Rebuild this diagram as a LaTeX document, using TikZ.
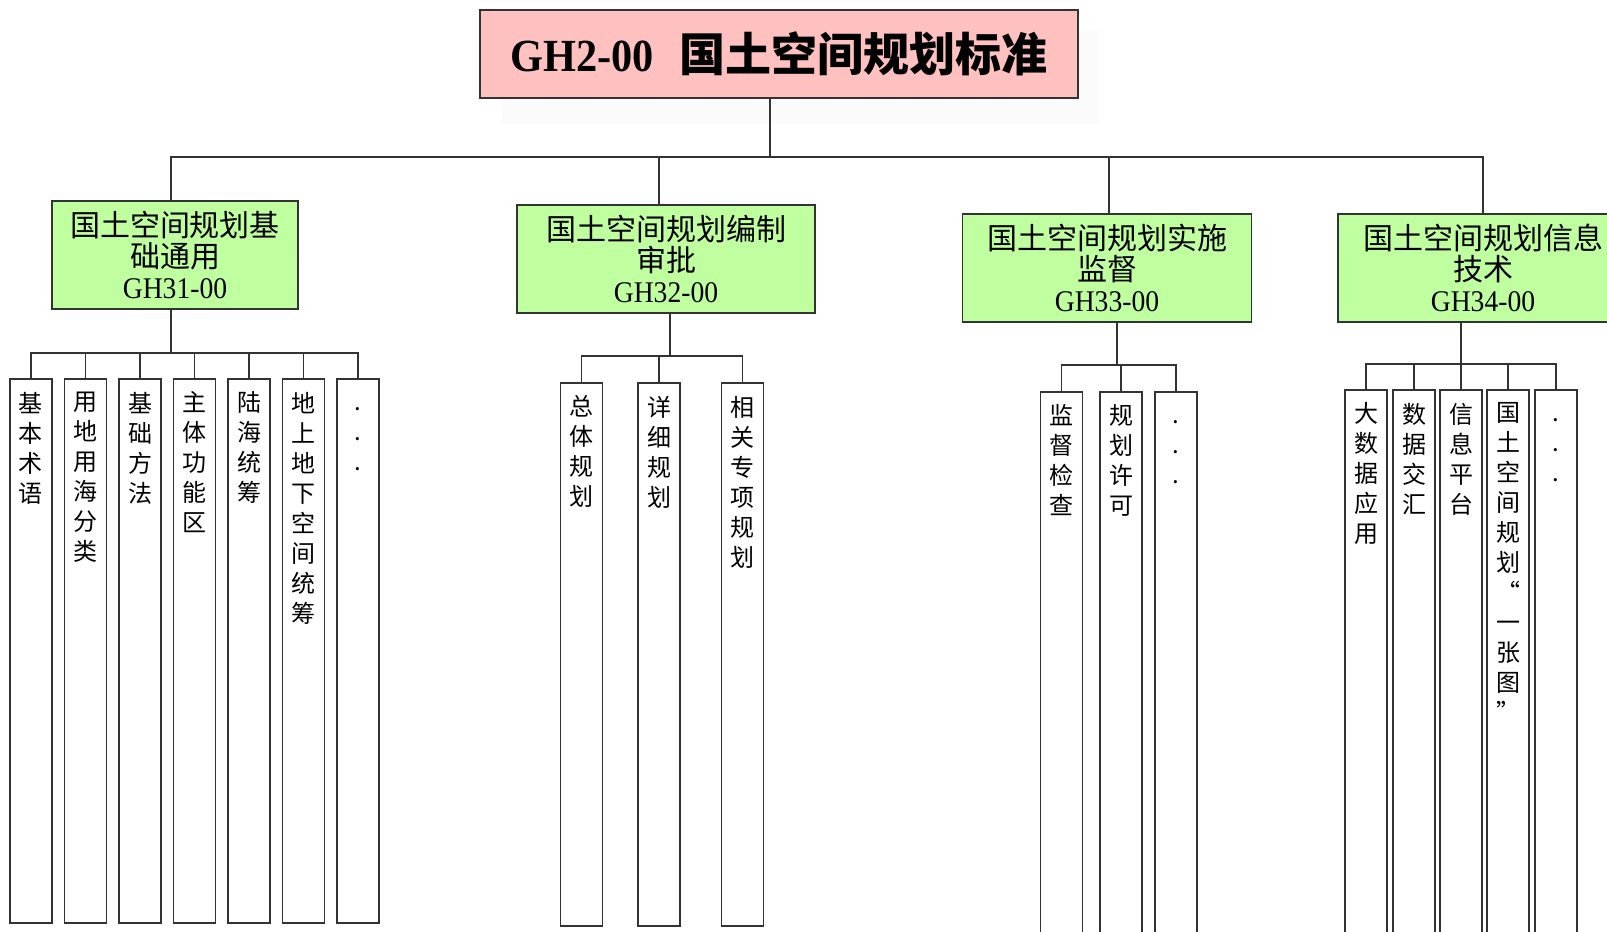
\documentclass[tikz,border=0pt]{standalone}
\usepackage{fontspec}
\setmainfont{Noto Sans CJK SC}
\newfontfamily\lat[FakeStretch=0.92]{Liberation Serif}
\definecolor{rosa}{RGB}{255,192,192}
\definecolor{gruen}{RGB}{192,255,160}
\newcommand{\spalte}[2]{\parbox[t][#1][t]{40pt}{\centering\vspace{13pt}#2}}
\tikzset{
	linie/.style={draw=black!80, line width=1.7pt},
	hauptkasten/.style={
		rectangle,
		fill=rosa,
		draw=black!80, line width=1.7pt,
		minimum width=598pt,
		minimum height=88pt,
		font=\fontsize{46}{46}\selectfont\bfseries},
	zweigkasten/.style={
		rectangle,
		fill=gruen,
		draw=black!80, line width=1.7pt,
		minimum height=108pt,
		align=center,
		font=\fontsize{30}{31}\selectfont},
	blatt/.style={
		rectangle,
		draw=black!80, line width=1.7pt,
		anchor=north,
		inner sep=0pt,
		minimum width=42pt,
		font=\fontsize{24}{30}\selectfont},
}

\begin{document}
\begin{tikzpicture}[x=1pt, y=-1pt]
	\path[use as bounding box, fill=white] (0,0) rectangle (1607,932);
	\clip (0,0) rectangle (1607,932);
	\fill[black!1.5] (502,31) rectangle (1099,123);

	\node[hauptkasten] (haupt) at (779,54) {{\lat GH2-00}\hspace{0.55em}国土空间规划标准};

	\node[zweigkasten, minimum width=246pt] (eins) at (175,255) {国土空间规划基\\础通用\\{\lat GH31-00}};
	\node[zweigkasten, minimum width=298pt] (zwei) at (666,259) {国土空间规划编制\\审批\\{\lat GH32-00}};
	\node[zweigkasten, minimum width=289pt] (drei) at (1107,268) {国土空间规划实施\\监督\\{\lat GH33-00}};
	\node[zweigkasten, minimum width=290pt] (vier) at (1483,268) {国土空间规划信息\\技术\\{\lat GH34-00}};

	% GH31
	\node[blatt] (eins-1) at (31,378) {\spalte{544pt}{基\\本\\术\\语}};
	\node[blatt] (eins-2) at (85.5,378) {\spalte{544pt}{用\\地\\用\\海\\分\\类}};
	\node[blatt] (eins-3) at (140,378) {\spalte{544pt}{基\\础\\方\\法}};
	\node[blatt] (eins-4) at (194.5,378) {\spalte{544pt}{主\\体\\功\\能\\区}};
	\node[blatt] (eins-5) at (249,378) {\spalte{544pt}{陆\\海\\统\\筹}};
	\node[blatt] (eins-6) at (303.5,378) {\spalte{544pt}{地\\上\\地\\下\\空\\间\\统\\筹}};
	\node[blatt] (eins-7) at (358,378) {\spalte{544pt}{\vphantom{国}.\\.\\.}};
	% GH32
	\node[blatt] (zwei-1) at (581.5,382) {\spalte{543pt}{总\\体\\规\\划}};
	\node[blatt] (zwei-2) at (659,382) {\spalte{543pt}{详\\细\\规\\划}};
	\node[blatt] (zwei-3) at (742.5,382) {\spalte{543pt}{相\\关\\专\\项\\规\\划}};
	% GH33
	\node[blatt] (drei-1) at (1061.5,391) {\spalte{600pt}{监\\督\\检\\查}};
	\node[blatt] (drei-2) at (1121,391) {\spalte{600pt}{规\\划\\许\\可}};
	\node[blatt] (drei-3) at (1176,391) {\spalte{600pt}{\vphantom{国}.\\.\\.}};
	% GH34
	\node[blatt] (vier-1) at (1366,389) {\spalte{600pt}{大\\数\\据\\应\\用}};
	\node[blatt] (vier-2) at (1414,389) {\spalte{600pt}{数\\据\\交\\汇}};
	\node[blatt] (vier-3) at (1461,389) {\spalte{600pt}{信\\息\\平\\台}};
	\node[blatt] (vier-4) at (1508,389) {\spalte{600pt}{国\\土\\空\\间\\规\\划\\“\\一\\张\\图\\”}};
	\node[blatt] (vier-5) at (1556,389) {\spalte{600pt}{\vphantom{国}.\\.\\.}};

	\coordinate (hub) at (770,157);
	\coordinate (ast1) at (171,353);
	\coordinate (ast2) at (670,356);
	\coordinate (ast3) at (1117,365);
	\coordinate (ast4) at (1461,364);

	\draw[linie] (hub |- haupt.south) -- (hub);
	\draw[linie] (hub) -| ([xshift=-4pt]eins.north);
	\draw[linie] (hub) -| ([xshift=-7pt]zwei.north);
	\draw[linie] (hub) -| ([xshift=2pt]drei.north);
	\draw[linie] (hub) -| (vier.north);

	\draw[linie] (ast1 |- eins.south) -- (ast1);
	\foreach \n in {1,...,7}
		\draw[linie] (ast1) -| (eins-\n.north);
	\draw[linie] (ast2 |- zwei.south) -- (ast2);
	\foreach \n in {1,2,3}
		\draw[linie] (ast2) -| (zwei-\n.north);
	\draw[linie] (ast3 |- drei.south) -- (ast3);
	\foreach \n in {1,2,3}
		\draw[linie] (ast3) -| (drei-\n.north);
	\draw[linie] (ast4 |- vier.south) -- (ast4);
	\foreach \n in {1,...,5}
		\draw[linie] (ast4) -| (vier-\n.north);
\end{tikzpicture}
\end{document}
